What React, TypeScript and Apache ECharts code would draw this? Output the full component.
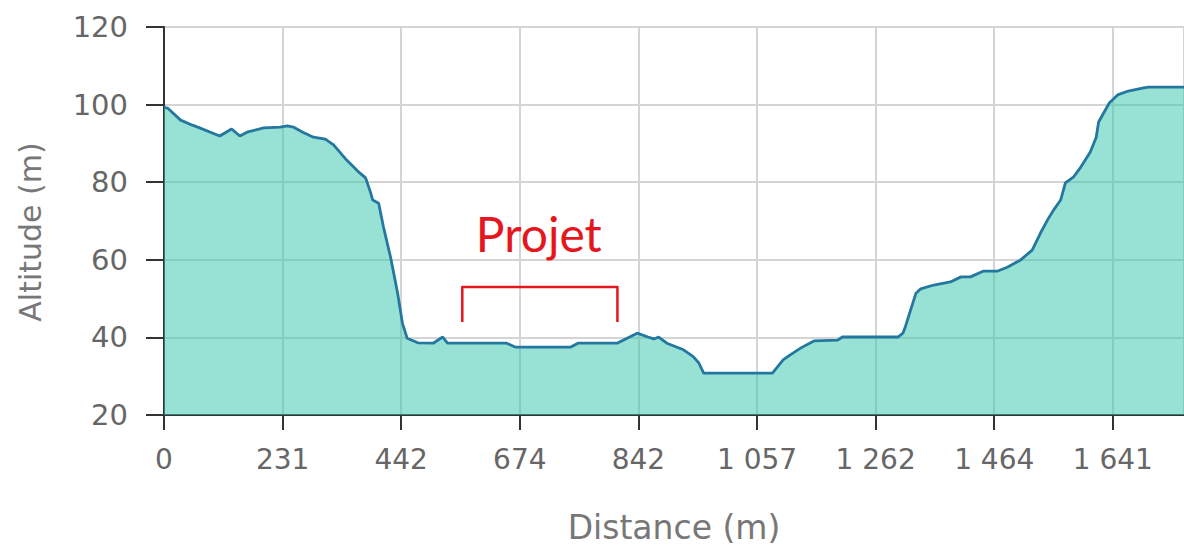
import React, { useEffect, useRef } from "react";
import * as echarts from "echarts";

// Tick labels of the distance axis (equally spaced in the picture)
const distanceTicks = ["0", "231", "442", "674", "842", "1 057", "1 262", "1 464", "1 641"];

// Profile sample positions, in units of one tick interval
const profileX = [
  0, 0.03, 0.14, 0.24, 0.3, 0.47, 0.57, 0.64, 0.7, 0.84, 0.98, 1.04, 1.09, 1.17, 1.26, 1.36, 1.43,
  1.54, 1.65, 1.7, 1.74, 1.76, 1.81, 1.85, 1.91, 1.97, 2.01, 2.05, 2.14, 2.27, 2.35, 2.39, 2.89,
  2.96, 3.43, 3.49, 3.82, 3.99, 4.08, 4.13, 4.17, 4.24, 4.38, 4.46, 4.51, 4.55, 5.13, 5.22, 5.28,
  5.37, 5.48, 5.68, 5.72, 6.19, 6.23, 6.25, 6.34, 6.38, 6.49, 6.63, 6.72, 6.8, 6.91, 7.03, 7.11,
  7.22, 7.32, 7.39, 7.45, 7.5, 7.56, 7.6, 7.67, 7.73, 7.81, 7.86, 7.88, 7.97, 8.04, 8.13, 8.26,
  8.3, 8.61,
];

// Altitude (m) at each sample
const profileAlt = [
  99.3, 99.1, 96.0, 94.7, 94.0, 91.9, 93.7, 91.9, 92.9, 94.0, 94.2, 94.5, 94.2, 92.9, 91.6, 91.1,
  89.6, 85.7, 82.4, 81.1, 77.5, 75.4, 74.6, 68.5, 60.7, 51.4, 43.7, 39.8, 38.6, 38.5, 40.1, 38.5,
  38.5, 37.5, 37.5, 38.5, 38.5, 41.1, 40.1, 39.6, 40.1, 38.5, 36.8, 35.1, 33.4, 30.8, 30.8, 34.2,
  35.5, 37.3, 39.1, 39.3, 40.1, 40.1, 41.1, 42.7, 51.4, 52.5, 53.5, 54.3, 55.6, 55.6, 57.1, 57.1,
  58.1, 59.9, 62.5, 66.9, 70.3, 72.8, 75.4, 79.8, 81.4, 83.9, 87.8, 91.6, 95.5, 100.4, 102.5,
  103.5, 104.3, 104.5, 104.5,
];

// "Projet" bracket annotation, in data units
const projetStartX = 2.515;
const projetEndX = 3.823;
const projetTopAlt = 53.0;
const projetBottomAlt = 44.0;
const projetLabel = "Projet";
const projetLabelX = 3.16;
const projetLabelAlt = 60.7;

const yTitle = "Altitude (m)";
const xTitle = "Distance (m)";

const FONT = "DejaVu Sans";

export default function App() {
  const ref = useRef<HTMLDivElement>(null);

  useEffect(() => {
    document.body.style.margin = "0";
    const chart = echarts.init(ref.current!, null, { renderer: "svg" });
    const data = profileX.map((x, i) => [x, profileAlt[i]]);
    chart.setOption({
      animation: false,
      backgroundColor: "#ffffff",
      grid: { left: 164, right: 0, top: 27, bottom: 134, containLabel: false },
      xAxis: {
        type: "value",
        min: 0,
        max: 8.6,
        interval: 1,
        name: xTitle,
        nameLocation: "middle",
        nameGap: 96,
        nameTextStyle: { color: "#777777", fontSize: 33, fontFamily: FONT },
        axisLine: { show: true, onZero: false, lineStyle: { color: "#333333", width: 2 } },
        axisTick: { show: true, length: 15, lineStyle: { color: "#333333", width: 2 } },
        axisLabel: {
          color: "#666666",
          fontSize: 28,
          fontFamily: FONT,
          margin: 30,
          showMaxLabel: false,
          formatter: (v: number) => {
            const i = Math.round(v);
            return Math.abs(v - i) < 1e-6 && distanceTicks[i] !== undefined ? distanceTicks[i] : "";
          },
        },
        splitLine: { show: true, lineStyle: { color: "#d4d4d4", width: 2 } },
      },
      yAxis: {
        type: "value",
        min: 20,
        max: 120,
        interval: 20,
        axisLine: { show: true, lineStyle: { color: "#333333", width: 2 } },
        axisTick: { show: true, length: 18, lineStyle: { color: "#333333", width: 2 } },
        axisLabel: { color: "#666666", fontSize: 29, fontFamily: FONT, margin: 36 },
        splitLine: { show: true, lineStyle: { color: "#d4d4d4", width: 2 } },
      },
      series: [
        {
          type: "line",
          data,
          symbol: "none",
          smooth: false,
          lineStyle: { color: "#24779f", width: 2.8 },
          areaStyle: { color: "#2fc6ac", opacity: 0.5, origin: "start" },
          z: 2,
        },
      ],
    });

    const p = (x: number, y: number) => chart.convertToPixel({ gridIndex: 0 }, [x, y]) as number[];
    const bl = p(projetStartX, projetBottomAlt);
    const tl = p(projetStartX, projetTopAlt);
    const tr = p(projetEndX, projetTopAlt);
    const br = p(projetEndX, projetBottomAlt);
    const lbl = p(projetLabelX, projetLabelAlt);
    chart.setOption({
      graphic: [
        {
          type: "text",
          x: 30,
          y: 232,
          rotation: Math.PI / 2,
          style: {
            text: yTitle,
            fill: "#777777",
            fontSize: 30,
            fontFamily: FONT,
            textAlign: "center",
            textVerticalAlign: "middle",
          },
        },
        {
          type: "polyline",
          shape: { points: [bl, tl, tr, br] },
          style: { stroke: "#e5161e", lineWidth: 2.5, fill: null, lineJoin: "round" },
          z: 10,
        },
        {
          type: "text",
          x: lbl[0],
          y: lbl[1],
          style: {
            text: projetLabel,
            fill: "#e5161e",
            fontSize: 48,
            fontFamily: "Lato",
            textAlign: "center",
            textVerticalAlign: "bottom",
          },
          z: 10,
        },
      ],
    });

    return () => chart.dispose();
  }, []);

  return <div ref={ref} style={{ width: 1184, height: 549 }} />;
}
